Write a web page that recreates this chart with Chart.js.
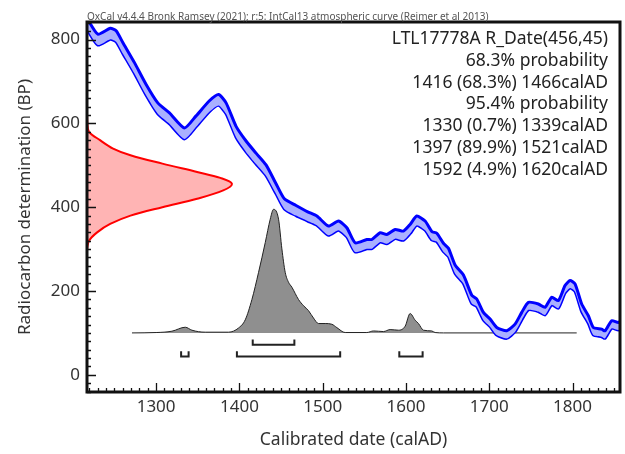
<!DOCTYPE html>
<html>
<head>
<meta charset="utf-8">
<script src="https://cdn.jsdelivr.net/npm/chart.js@4"></script>
<style>
  body { margin: 0; background: #fff; }
  #wrap { width: 625px; height: 454px; }
</style>
</head>
<body>
<div id="wrap"><canvas id="c14Chart" width="625" height="454"></canvas></div>
<script>
// calibration curve (IntCal13)
const curveYears = [1217,1230,1245,1252,1260,1274,1288,1302,1316,1334,1348,1364,1375,1384,1396,1408,1420,1432,1444,1454,1468,1482,1493,1507,1519,1529,1539,1553,1559,1569,1577,1587,1597,1605,1613,1623,1631,1637,1645,1651,1659,1669,1679,1685,1693,1701,1709,1721,1731,1739,1747,1759,1767,1775,1783,1791,1797,1803,1811,1819,1825,1835,1839,1847,1855,1860];
const curveBP = [838,800,814,808,780,732,680,636,612,576,605,641,656,636,580,545,516,488,444,408,392,378,368,344,356,340,304,312,312,328,324,336,332,348,368,356,332,328,304,292,252,228,180,172,140,124,104,96,112,140,164,160,152,176,168,204,216,208,160,132,104,100,96,120,116,124];
const curveErr = [13,13,13,13,13,13,13,13,13,13,13,13,13,13,13,13,13,13,12,12,12,11,11,11,11,11,11,11,11,11,11,11,11,11,11,11,10,10,10,10,10,10,10,9,9,9,9,9,9,9,9,9,9,9,9,9,9,9,9,9,9,9,9,9,9,9];

// measurement R_Date(456,45)
const measBP = [624,600,580,560,540,524,504,484,470,456,440,420,400,380,360,340,320,300];
const measDensity = [0,0.003,0.014,0.09,0.18,0.3,0.52,0.76,0.92,1.0,0.94,0.76,0.52,0.3,0.16,0.07,0.014,0];

// calibrated probability (relative)
const probYears = [1271,1300,1319,1335,1343,1359,1387,1399,1407,1415,1423,1431,1437,1441,1447,1451,1455,1459,1463,1471,1477,1483,1489,1495,1503,1511,1517,1527,1553,1561,1573,1581,1591,1599,1605,1611,1615,1621,1631,1635,1645,1805];
const probValues = [0,0.003,0.014,0.046,0.022,0.006,0.006,0.04,0.106,0.27,0.49,0.73,0.92,1.0,0.92,0.68,0.49,0.41,0.37,0.27,0.22,0.18,0.12,0.076,0.076,0.07,0.043,0.003,0.003,0.016,0.011,0.027,0.022,0.054,0.157,0.103,0.076,0.022,0.016,0.003,0,0];

const range68 = [[1416, 1466]];
const range95 = [[1330, 1339], [1397, 1521], [1592, 1620]];

const infoLines = [
  'LTL17778A R_Date(456,45)',
  '68.3% probability',
  '1416 (68.3%) 1466calAD',
  '95.4% probability',
  '1330 (0.7%) 1339calAD',
  '1397 (89.9%) 1521calAD',
  '1592 (4.9%) 1620calAD'
];
const creditText = 'OxCal v4.4.4 Bronk Ramsey (2021); r:5: IntCal13 atmospheric curve (Reimer et al 2013)';

const xMin = 1217, xMax = 1857, yMin = -41, yMax = 842;
const FONT = "'Noto Sans', 'Open Sans', sans-serif";

// layout for the drawn pieces
const measSpan = 174;       // years at peak of measurement curve
const probBase = 100, probSpan = 295;

function bracketPoints(ranges, lineY, tickY) {
  const pts = [];
  ranges.forEach(function(r) {
    pts.push({x: r[0], y: tickY}, {x: r[0], y: lineY}, {x: r[1], y: lineY}, {x: r[1], y: tickY}, {x: null, y: null});
  });
  return pts;
}

const upper = curveYears.map((x, i) => ({x: x, y: curveBP[i] + curveErr[i]}));
const lower = curveYears.map((x, i) => ({x: x, y: curveBP[i] - curveErr[i]}));
const measPts = measBP.map((y, i) => ({x: xMin + measDensity[i] * measSpan, y: y}));
const probPts = probYears.map((x, i) => ({x: x, y: probBase + probValues[i] * probSpan}));

const framePlugin = {
  id: 'frame',
  afterDatasetsDraw(chart) {
    const c = chart.ctx, a = chart.chartArea;
    const xs = chart.scales.x, ys = chart.scales.y;
    c.save();
    c.strokeStyle = '#111';
    c.lineWidth = 1.3;
    c.beginPath();
    for (let v = 1220; v <= 1850; v += 10) {
      const px = Math.round(xs.getPixelForValue(v)) + 0.5;
      const len = v % 100 === 0 ? 9 : 4;
      c.moveTo(px, a.bottom); c.lineTo(px, a.bottom - len);
    }
    for (let v = -40; v <= 840; v += 20) {
      const py = Math.round(ys.getPixelForValue(v)) + 0.5;
      const len = v % 200 === 0 ? 9 : 4;
      c.moveTo(a.left, py); c.lineTo(a.left + len, py);
    }
    c.stroke();
    c.lineWidth = 3;
    c.strokeRect(a.left, a.top, a.right - a.left, a.bottom - a.top);

    c.fillStyle = '#555';
    c.font = '10px ' + FONT;
    c.textAlign = 'left';
    c.textBaseline = 'alphabetic';
    c.fillText(creditText, a.left, 19.5);

    c.fillStyle = '#222';
    c.font = '17.5px ' + FONT;
    c.textAlign = 'right';
    c.textBaseline = 'middle';
    infoLines.forEach(function(t, i) {
      c.fillText(t, 608, 39 + i * 21.8);
    });
    c.restore();
  }
};

const ctx = document.getElementById('c14Chart').getContext('2d');
new Chart(ctx, {
  type: 'scatter',
  data: {
    datasets: [
      {
        data: upper, showLine: true, pointRadius: 0,
        borderColor: '#0000ff', borderWidth: 3, tension: 0.2,
        backgroundColor: '#aab0ff', fill: '+1', order: 1
      },
      {
        data: lower, showLine: true, pointRadius: 0,
        borderColor: '#0000ff', borderWidth: 3, tension: 0.2,
        fill: false, order: 1
      },
      {
        data: probPts, showLine: true, pointRadius: 0,
        borderColor: '#222', borderWidth: 1, cubicInterpolationMode: 'monotone',
        backgroundColor: '#8f8f8f', fill: {value: probBase}, order: 2
      },
      {
        data: bracketPoints(range68, 72, 84), showLine: true, pointRadius: 0,
        borderColor: '#222', borderWidth: 2, spanGaps: false, order: 2
      },
      {
        data: bracketPoints(range95, 44, 56), showLine: true, pointRadius: 0,
        borderColor: '#222', borderWidth: 2, spanGaps: false, order: 2
      },
      {
        data: measPts, showLine: true, pointRadius: 0,
        borderColor: '#ff0000', borderWidth: 2, tension: 0.35,
        backgroundColor: '#ffb4b4', fill: 'shape', order: 3
      }
    ]
  },
  options: {
    responsive: false,
    animation: false,
    layout: { padding: { top: 22, right: 5, left: 0, bottom: 0 } },
    plugins: { legend: { display: false }, tooltip: { enabled: false } },
    scales: {
      x: {
        type: 'linear', min: xMin, max: xMax,
        afterFit(scale) { scale.height = 62; },
        grid: { display: false, drawTicks: false },
        border: { display: false },
        ticks: { stepSize: 100, includeBounds: false, padding: 5, color: '#333', font: { family: FONT, size: 17 },
                 callback: function(v) { return String(v); } },
        title: { display: true, text: 'Calibrated date (calAD)', color: '#333', padding: { top: 0, bottom: 3 }, font: { family: FONT, size: 17.5 } }
      },
      y: {
        type: 'linear', min: yMin, max: yMax,
        afterFit(scale) { scale.width = 87; },
        grid: { display: false, drawTicks: false },
        border: { display: false },
        ticks: { stepSize: 200, includeBounds: false, padding: 7, color: '#333', font: { family: FONT, size: 17 },
                 callback: function(v) { return String(v); } },
        title: { display: true, text: 'Radiocarbon determination (BP)', color: '#333', padding: { top: 15, bottom: 0 }, font: { family: FONT, size: 17 } }
      }
    }
  },
  plugins: [framePlugin]
});
</script>
</body>
</html>
